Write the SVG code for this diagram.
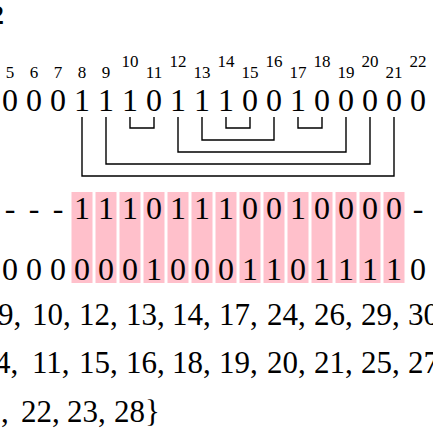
<svg xmlns="http://www.w3.org/2000/svg" width="433" height="433" viewBox="0 0 433 433">
<style>
text{font-family:"Liberation Serif","DejaVu Serif",serif;fill:#000}
.idx{font-size:17px;text-anchor:middle}
.big{font-size:32px;text-anchor:middle}
.seq{font-size:31px}
.pk{fill:#ffc0cb}
.br{fill:none;stroke:#000;stroke-width:1.4}
</style>
<rect width="433" height="433" fill="#fff"/>
<text x="-10" y="24" style="font-size:28px;font-weight:bold">2</text>
<g id="indices">
<text class="idx" x="10" y="78">5</text><text class="idx" x="34" y="78">6</text><text class="idx" x="58" y="78">7</text><text class="idx" x="82" y="78">8</text><text class="idx" x="106" y="78">9</text>
<text class="idx" x="130" y="67">10</text><text class="idx" x="154" y="78">11</text><text class="idx" x="178" y="67">12</text><text class="idx" x="202" y="78">13</text><text class="idx" x="226" y="67">14</text><text class="idx" x="250" y="78">15</text><text class="idx" x="274" y="67">16</text><text class="idx" x="298" y="78">17</text><text class="idx" x="322" y="67">18</text><text class="idx" x="346" y="78">19</text><text class="idx" x="370" y="67">20</text><text class="idx" x="394" y="78">21</text><text class="idx" x="418" y="67">22</text>
</g>
<g id="top-row">
<text class="big" x="10" y="111">0</text><text class="big" x="34" y="111">0</text><text class="big" x="58" y="111">0</text><text class="big" x="82" y="111">1</text><text class="big" x="106" y="111">1</text><text class="big" x="130" y="111">1</text><text class="big" x="154" y="111">0</text><text class="big" x="178" y="111">1</text><text class="big" x="202" y="111">1</text><text class="big" x="226" y="111">1</text><text class="big" x="250" y="111">0</text><text class="big" x="274" y="111">0</text><text class="big" x="298" y="111">1</text><text class="big" x="322" y="111">0</text><text class="big" x="346" y="111">0</text><text class="big" x="370" y="111">0</text><text class="big" x="394" y="111">0</text><text class="big" x="418" y="111">0</text>
</g>
<g id="connectors">
<path class="br" d="M130 117V128H154V117"/>
<path class="br" d="M226 117V128H250V117"/>
<path class="br" d="M298 117V128H322V117"/>
<path class="br" d="M202 117V140H274V117"/>
<path class="br" d="M178 117V152H346V117"/>
<path class="br" d="M106 117V164H370V117"/>
<path class="br" d="M82 117V176H394V117"/>
</g>
<g id="highlight">
<rect class="pk" x="71.5" y="192" width="21" height="91"/><rect class="pk" x="95.5" y="192" width="21" height="91"/><rect class="pk" x="119.5" y="192" width="21" height="91"/><rect class="pk" x="143.5" y="192" width="21" height="91"/><rect class="pk" x="167.5" y="192" width="21" height="91"/><rect class="pk" x="191.5" y="192" width="21" height="91"/><rect class="pk" x="215.5" y="192" width="21" height="91"/><rect class="pk" x="239.5" y="192" width="21" height="91"/><rect class="pk" x="263.5" y="192" width="21" height="91"/><rect class="pk" x="287.5" y="192" width="21" height="91"/><rect class="pk" x="311.5" y="192" width="21" height="91"/><rect class="pk" x="335.5" y="192" width="21" height="91"/><rect class="pk" x="359.5" y="192" width="21" height="91"/><rect class="pk" x="383.5" y="192" width="21" height="91"/>
</g>
<g id="middle-row">
<text class="big" x="10" y="219">-</text><text class="big" x="34" y="219">-</text><text class="big" x="58" y="219">-</text><text class="big" x="82" y="219">1</text><text class="big" x="106" y="219">1</text><text class="big" x="130" y="219">1</text><text class="big" x="154" y="219">0</text><text class="big" x="178" y="219">1</text><text class="big" x="202" y="219">1</text><text class="big" x="226" y="219">1</text><text class="big" x="250" y="219">0</text><text class="big" x="274" y="219">0</text><text class="big" x="298" y="219">1</text><text class="big" x="322" y="219">0</text><text class="big" x="346" y="219">0</text><text class="big" x="370" y="219">0</text><text class="big" x="394" y="219">0</text><text class="big" x="418" y="219">-</text>
</g>
<g id="bottom-row">
<text class="big" x="10" y="280">0</text><text class="big" x="34" y="280">0</text><text class="big" x="58" y="280">0</text><text class="big" x="82" y="280">0</text><text class="big" x="106" y="280">0</text><text class="big" x="130" y="280">0</text><text class="big" x="154" y="280">1</text><text class="big" x="178" y="280">0</text><text class="big" x="202" y="280">0</text><text class="big" x="226" y="280">0</text><text class="big" x="250" y="280">1</text><text class="big" x="274" y="280">1</text><text class="big" x="298" y="280">0</text><text class="big" x="322" y="280">1</text><text class="big" x="346" y="280">1</text><text class="big" x="370" y="280">1</text><text class="big" x="394" y="280">1</text><text class="big" x="418" y="280">0</text>
</g>
<g id="sets">
<text class="seq" y="325"><tspan x="-2">9,</tspan><tspan x="32">10,</tspan><tspan x="79">12,</tspan><tspan x="126">13,</tspan><tspan x="172">14,</tspan><tspan x="219">17,</tspan><tspan x="267">24,</tspan><tspan x="314">26,</tspan><tspan x="361">29,</tspan><tspan x="408">30</tspan></text>
<text class="seq" y="373"><tspan x="-5">4,</tspan><tspan x="32">11,</tspan><tspan x="79">15,</tspan><tspan x="126">16,</tspan><tspan x="172">18,</tspan><tspan x="219">19,</tspan><tspan x="267">20,</tspan><tspan x="314">21,</tspan><tspan x="361">25,</tspan><tspan x="408">27</tspan></text>
<text class="seq" y="422"><tspan x="1">,</tspan><tspan x="21">22,</tspan><tspan x="67">23,</tspan><tspan x="114">28}</tspan></text>
</g>
</svg>
